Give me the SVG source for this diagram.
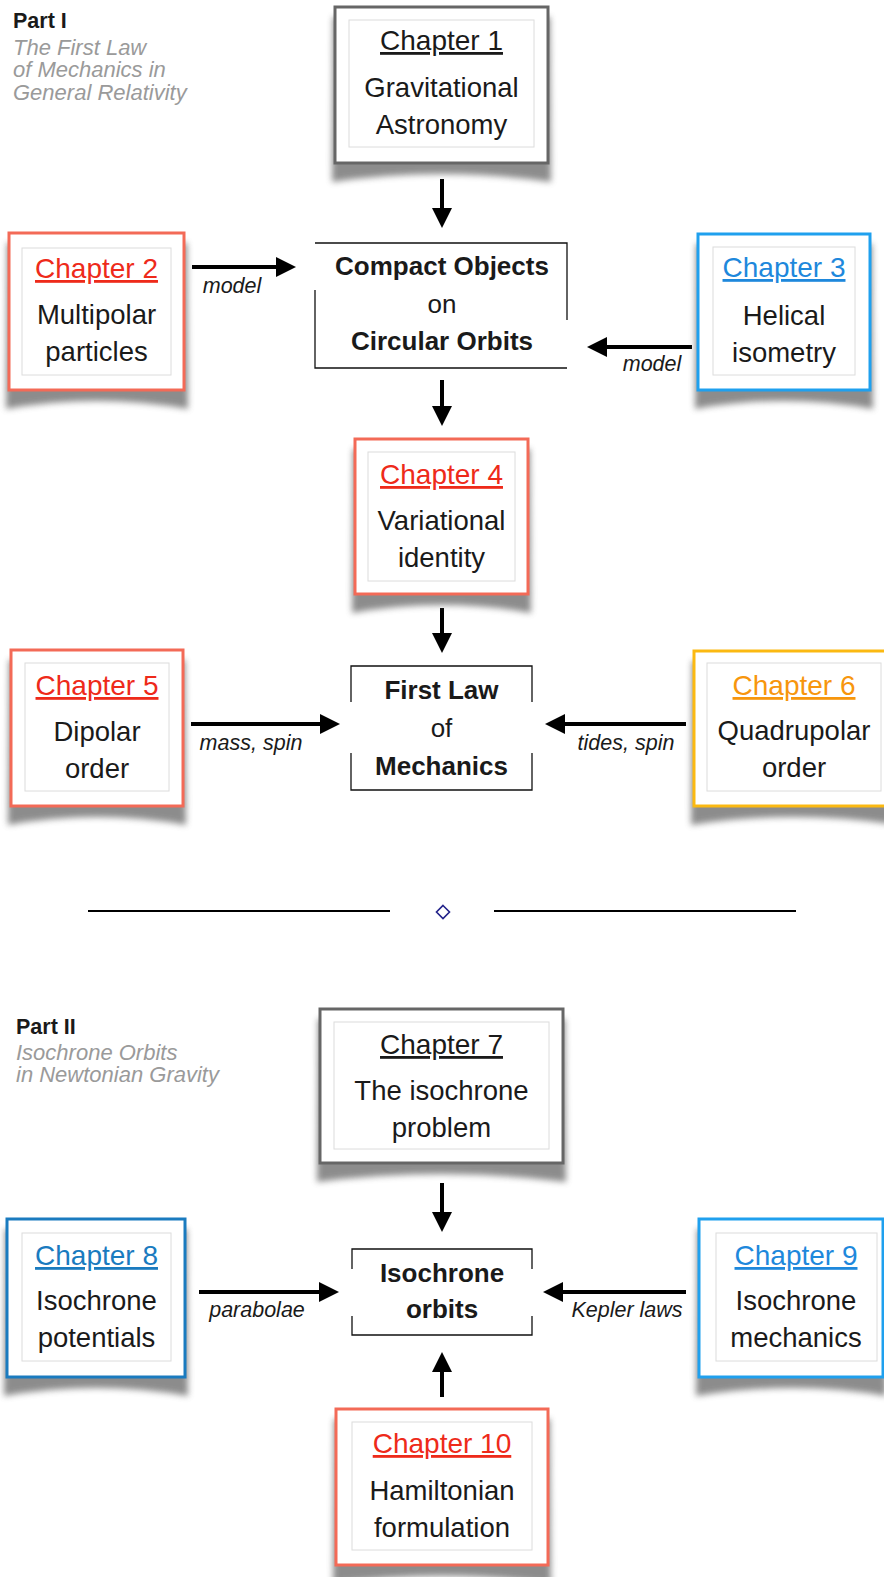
<svg xmlns="http://www.w3.org/2000/svg" width="884" height="1577" viewBox="0 0 884 1577">
<defs>
<style>
text{font-family:"Liberation Sans",Arial,sans-serif;fill:#1a1a1a}
.head{font-size:28px;text-anchor:middle;text-decoration:underline}
.body{font-size:27.5px;text-anchor:middle}
.bold{font-size:26px;font-weight:bold;text-anchor:middle}
.reg{font-size:26px;text-anchor:middle}
.lab{font-size:21.5px;font-style:italic;text-anchor:middle}
.part{font-size:21.5px;font-weight:bold}
.sub{font-size:22px;font-style:italic;fill:#9a9a9a}
.outer{fill:#fff;stroke-width:3}
.inner{fill:#fff;stroke:#dcdcdc;stroke-width:1}
.shadow{fill:#666;opacity:0.75;filter:url(#blur)}
.frame{fill:none;stroke:#111;stroke-width:1.3}
.arrow{stroke:#000;stroke-width:4;fill:none;marker-end:url(#ah)}
.gray{stroke:#666}
.red{stroke:#f36a57}
.blue{stroke:#1fa0ee}
.dblue{stroke:#1a7bbf}
.gold{stroke:#fbb912}
.tred{fill:#ee2a1a}
.tblue{fill:#1e88dc}
.tdblue{fill:#1a7bbf}
.tgold{fill:#f7960d}
</style>
<filter id="blur" x="-20%" y="-20%" width="140%" height="160%"><feGaussianBlur stdDeviation="3"/></filter>
<marker id="ah" markerUnits="userSpaceOnUse" markerWidth="20" markerHeight="20" viewBox="0 0 20 20" refX="10" refY="10" orient="auto"><path d="M0,0 L20,10 L0,20 Z" fill="#000"/></marker>
</defs>

<g id="part1-title">
<text class="part" x="13" y="28">Part I</text>
<text class="sub" x="13" y="55">The First Law</text>
<text class="sub" x="13" y="77">of Mechanics in</text>
<text class="sub" x="13" y="100">General Relativity</text>
</g>

<g id="connectors">
<line class="arrow" x1="442" y1="179" x2="442" y2="218"/>
<line class="arrow" x1="192" y1="267" x2="286" y2="267"/>
<line class="arrow" x1="692" y1="347" x2="597" y2="347"/>
<line class="arrow" x1="442" y1="380" x2="442" y2="416"/>
<line class="arrow" x1="442" y1="608" x2="442" y2="643"/>
<line class="arrow" x1="191" y1="724" x2="330" y2="724"/>
<line class="arrow" x1="686" y1="724" x2="555" y2="724"/>
<line class="arrow" x1="442" y1="1183" x2="442" y2="1222"/>
<line class="arrow" x1="199" y1="1292" x2="329" y2="1292"/>
<line class="arrow" x1="686" y1="1292" x2="553" y2="1292"/>
<line class="arrow" x1="442" y1="1397" x2="442" y2="1362"/>
<text class="lab" x="232" y="293">model</text>
<text class="lab" x="652" y="371">model</text>
<text class="lab" x="251" y="750">mass, spin</text>
<text class="lab" x="626" y="750">tides, spin</text>
<text class="lab" x="257" y="1317">parabolae</text>
<text class="lab" x="627" y="1317">Kepler laws</text>
</g>

<g id="ch1">
<path class="shadow" d="M333,17 L550,17 L551,182 Q441.5,166 332,182 Z"/>
<rect class="outer gray" x="335" y="7" width="213" height="156"/>
<rect class="inner" x="349" y="20" width="185" height="127"/>
<text class="head" x="441.5" y="50">Chapter 1</text>
<text class="body" x="441.5" y="97">Gravitational</text>
<text class="body" x="441.5" y="134">Astronomy</text>
</g>

<g id="ch2">
<path class="shadow" d="M7,243 L187,243 L188,409 Q96.5,393 6,409 Z"/>
<rect class="outer red" x="9" y="233" width="175" height="157"/>
<rect class="inner" x="22" y="248" width="149" height="127"/>
<text class="head tred" x="96.5" y="278">Chapter 2</text>
<text class="body" x="96.5" y="324">Multipolar</text>
<text class="body" x="96.5" y="361">particles</text>
</g>

<g id="ch3">
<path class="shadow" d="M696,244 L872,244 L873,409 Q784,393 695,409 Z"/>
<rect class="outer blue" x="698" y="234" width="172" height="156"/>
<rect class="inner" x="713" y="247" width="142" height="128"/>
<text class="head tblue" x="784" y="277">Chapter 3</text>
<text class="body" x="784" y="325">Helical</text>
<text class="body" x="784" y="362">isometry</text>
</g>

<g id="compact">
<path class="frame" d="M315,243 H567 V320 M315,290 V368 H567"/>
<text class="bold" x="442" y="275">Compact Objects</text>
<text class="reg" x="442" y="313">on</text>
<text class="bold" x="442" y="350">Circular Orbits</text>
</g>

<g id="ch4">
<path class="shadow" d="M353,449 L530,449 L531,613 Q441.5,597 352,613 Z"/>
<rect class="outer red" x="355" y="439" width="173" height="155"/>
<rect class="inner" x="368" y="452" width="147" height="129"/>
<text class="head tred" x="441.5" y="484">Chapter 4</text>
<text class="body" x="441.5" y="530">Variational</text>
<text class="body" x="441.5" y="567">identity</text>
</g>

<g id="firstlaw">
<path class="frame" d="M351,702 V666 H532 V702 M351,753 V790 H532 V753"/>
<text class="bold" x="441.5" y="699">First Law</text>
<text class="reg" x="441.5" y="737">of</text>
<text class="bold" x="441.5" y="775">Mechanics</text>
</g>

<g id="ch5">
<path class="shadow" d="M9,660 L185,660 L186,825 Q97,809 8,825 Z"/>
<rect class="outer red" x="11" y="650" width="172" height="156"/>
<rect class="inner" x="25" y="663" width="144" height="128"/>
<text class="head tred" x="97" y="695">Chapter 5</text>
<text class="body" x="97" y="741">Dipolar</text>
<text class="body" x="97" y="778">order</text>
</g>

<g id="ch6">
<path class="shadow" d="M692,661 L897,661 L898,825 Q794,809 691,825 Z"/>
<rect class="outer gold" x="694" y="651" width="201" height="155"/>
<rect class="inner" x="707" y="663" width="174" height="128"/>
<text class="head tgold" x="794" y="695">Chapter 6</text>
<text class="body" x="794" y="740">Quadrupolar</text>
<text class="body" x="794" y="777">order</text>
</g>

<g id="separator">
<line x1="88" y1="911" x2="390" y2="911" stroke="#000" stroke-width="2"/>
<line x1="494" y1="911" x2="796" y2="911" stroke="#000" stroke-width="2"/>
<path d="M443,905.5 L449.5,912 L443,918.5 L436.5,912 Z" fill="none" stroke="#22228a" stroke-width="1.6"/>
</g>

<g id="part2-title">
<text class="part" x="16" y="1034">Part II</text>
<text class="sub" x="16" y="1060">Isochrone Orbits</text>
<text class="sub" x="16" y="1082">in Newtonian Gravity</text>
</g>

<g id="ch7">
<path class="shadow" d="M318,1019 L565,1019 L566,1182 Q441.5,1166 317,1182 Z"/>
<rect class="outer gray" x="320" y="1009" width="243" height="154"/>
<rect class="inner" x="334" y="1022" width="215" height="127"/>
<text class="head" x="441.5" y="1054">Chapter 7</text>
<text class="body" x="441.5" y="1100">The isochrone</text>
<text class="body" x="441.5" y="1137">problem</text>
</g>

<g id="isochrone">
<path class="frame" d="M352,1269 V1249 H532 V1269 M352,1316 V1335 H532 V1316"/>
<text class="bold" x="442" y="1282">Isochrone</text>
<text class="bold" x="442" y="1318">orbits</text>
</g>

<g id="ch8">
<path class="shadow" d="M5,1229 L187,1229 L188,1396 Q96.5,1380 4,1396 Z"/>
<rect class="outer dblue" x="7" y="1219" width="178" height="158"/>
<rect class="inner" x="22" y="1233" width="149" height="128"/>
<text class="head tdblue" x="96.5" y="1265">Chapter 8</text>
<text class="body" x="96.5" y="1310">Isochrone</text>
<text class="body" x="96.5" y="1347">potentials</text>
</g>

<g id="ch9">
<path class="shadow" d="M697,1229 L885,1229 L886,1396 Q796,1380 696,1396 Z"/>
<rect class="outer blue" x="699" y="1219" width="184" height="158"/>
<rect class="inner" x="716" y="1233" width="161" height="128"/>
<text class="head tblue" x="796" y="1265">Chapter 9</text>
<text class="body" x="796" y="1310">Isochrone</text>
<text class="body" x="796" y="1347">mechanics</text>
</g>

<g id="ch10">
<path class="shadow" d="M334,1419 L550,1419 L551,1584 Q442,1568 333,1584 Z"/>
<rect class="outer red" x="336" y="1409" width="212" height="156"/>
<rect class="inner" x="352" y="1422" width="180" height="128"/>
<text class="head tred" x="442" y="1453">Chapter 10</text>
<text class="body" x="442" y="1500">Hamiltonian</text>
<text class="body" x="442" y="1537">formulation</text>
</g>
</svg>
